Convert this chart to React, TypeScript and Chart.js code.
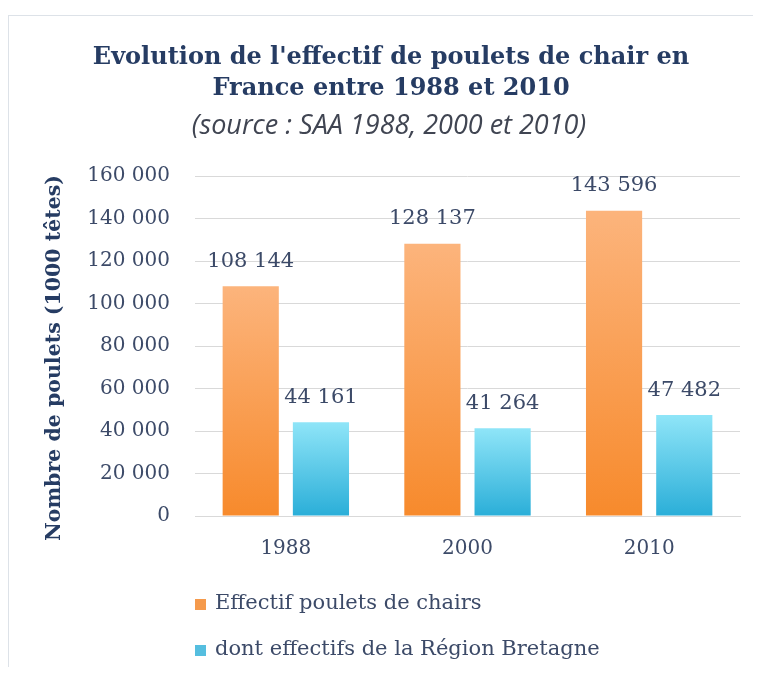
import React, { useEffect, useRef } from "react";
import { Chart, registerables } from "chart.js";

Chart.register(...registerables);

const CATEGORIES = ["1988", "2000", "2010"];
const FRANCE_VALUES = [108144, 128137, 143596];
const BRETAGNE_VALUES = [44161, 41264, 47482];
const SERIES_NAMES = ["Effectif poulets de chairs", "dont effectifs de la Région Bretagne"];
const TITLE_LINES = ["Evolution de l'effectif de poulets de chair en", "France entre 1988 et 2010"];
const SUBTITLE = "(source : SAA 1988, 2000 et 2010)";
const Y_TITLE = "Nombre de poulets (1000 têtes)";
const Y_MAX = 160000;
const Y_STEP = 20000;

const NAVY = "#263c63";
const TEXT = "#3c4a68";
const SERIF = "'DejaVu Serif', 'Liberation Serif', serif";

const fmt = (n: number) => String(n).replace(/\B(?=(\d{3})+(?!\d))/g, " ");

const GRADS = [
  ["#fcb47c", "#f78a2c"],
  ["#8fe5f8", "#2aaed8"],
];
const LEGEND_COLORS = ["#f59a4c", "#55bedf"];

function barGradient(which: number) {
  return (ctx: any) => {
    const chart = ctx.chart;
    const area = chart.chartArea;
    const y = chart.scales && chart.scales.y;
    if (!area || !y || ctx.dataIndex === undefined) return GRADS[which][1];
    const v = ctx.dataset.data[ctx.dataIndex] as number;
    const top = y.getPixelForValue(v);
    const bottom = y.getPixelForValue(0);
    const g = chart.ctx.createLinearGradient(0, top, 0, bottom);
    g.addColorStop(0, GRADS[which][0]);
    g.addColorStop(1, GRADS[which][1]);
    return g;
  };
}

const decorPlugin = {
  id: "decor",
  afterDatasetsDraw(chart: any) {
    const c = chart.ctx;
    c.save();
    c.font = `21px ${SERIF}`;
    c.fillStyle = TEXT;
    c.textAlign = "center";
    c.textBaseline = "middle";
    chart.data.datasets.forEach((ds: any, di: number) => {
      const meta = chart.getDatasetMeta(di);
      meta.data.forEach((bar: any, i: number) => {
        c.fillText(fmt(ds.data[i]), bar.x, bar.y - 25);
      });
    });
    c.restore();
  },
  afterDraw(chart: any) {
    const c = chart.ctx;
    const cx = chart.width / 2 + 10;
    const area = chart.chartArea;
    c.save();
    c.textAlign = "center";
    c.textBaseline = "alphabetic";
    c.fillStyle = NAVY;
    c.font = `bold 24px ${SERIF}`;
    c.fillText(TITLE_LINES[0], cx, 48);
    c.fillText(TITLE_LINES[1], cx, 79);
    c.font = "italic 27px 'Liberation Sans Narrow', 'Open Sans', sans-serif";
    c.fillStyle = "#404552";
    c.fillText(SUBTITLE, cx - 2, 118);
    // y-axis title
    c.save();
    c.translate(46, (area.top + area.bottom) / 2 + 12);
    c.rotate(-Math.PI / 2);
    c.font = `bold 20.5px ${SERIF}`;
    c.fillStyle = NAVY;
    c.textBaseline = "middle";
    c.fillText(Y_TITLE, 0, 0);
    c.restore();
    // legend
    c.textAlign = "left";
    c.textBaseline = "middle";
    c.font = `21px ${SERIF}`;
    const lx = area.left;
    SERIES_NAMES.forEach((name, i) => {
      const cy = 588 + i * 46;
      c.fillStyle = LEGEND_COLORS[i];
      c.fillRect(lx, cy - 5, 11, 11);
      c.fillStyle = TEXT;
      c.fillText(name, lx + 20, cy);
    });
    c.restore();
  },
};

export default function App() {
  const ref = useRef<HTMLCanvasElement>(null);
  useEffect(() => {
    if (!ref.current) return;
    const chart = new Chart(ref.current, {
      type: "bar",
      data: {
        labels: CATEGORIES,
        datasets: [
          {
            label: SERIES_NAMES[0],
            data: FRANCE_VALUES,
            backgroundColor: barGradient(0),
            categoryPercentage: 0.773,
            barPercentage: 0.8,
          },
          {
            label: SERIES_NAMES[1],
            data: BRETAGNE_VALUES,
            backgroundColor: barGradient(1),
            categoryPercentage: 0.773,
            barPercentage: 0.8,
          },
        ],
      },
      options: {
        animation: false,
        responsive: false,
        maintainAspectRatio: false,
        layout: { padding: { top: 160, left: 28, right: 13, bottom: 100 } },
        plugins: {
          legend: { display: false },
          title: { display: false },
          tooltip: { enabled: false },
        },
        scales: {
          x: {
            grid: { display: false, drawTicks: false },
            border: { display: true, color: "#d9d9d9" },
            ticks: { color: TEXT, font: { family: SERIF, size: 20 }, padding: 21 },
            afterFit: (s: any) => {
              s.height = 50;
            },
          },
          y: {
            min: 0,
            max: Y_MAX,
            ticks: {
              stepSize: Y_STEP,
              color: TEXT,
              font: { family: SERIF, size: 20 },
              padding: 25,
              callback: (v: any) => fmt(Number(v)),
            },
            grid: { color: "#d9d9d9", drawTicks: false },
            border: { display: false },
            afterFit: (s: any) => {
              s.width = 158;
            },
          },
        },
      },
      plugins: [decorPlugin],
    });
    return () => chart.destroy();
  }, []);
  return (
    <div
      style={{
        marginTop: 7,
        width: 744,
        height: 651,
        borderTop: "1px solid #dde2e8",
        borderLeft: "1px solid #dde2e8",
        background: "#fff",
      }}
    >
      <canvas ref={ref} width={744} height={650} style={{ display: "block" }} />
    </div>
  );
}
